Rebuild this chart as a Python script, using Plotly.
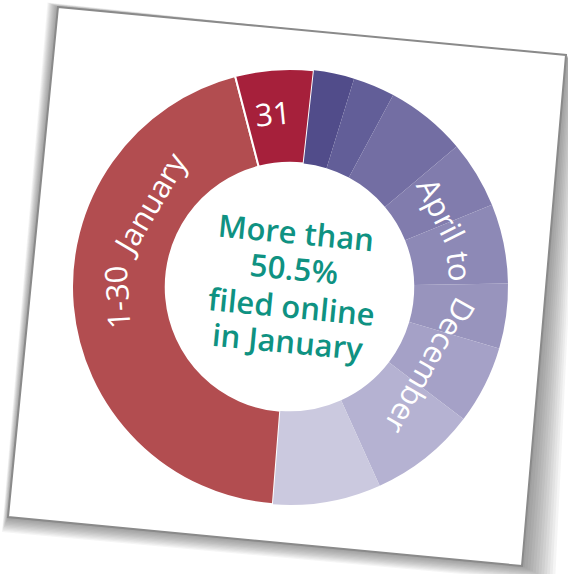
import math
import plotly.graph_objects as go

# ---------------- data ----------------
segments = ["1-30 January", "31 January", "Segment 3", "Segment 4", "Segment 5",
            "Segment 6", "Segment 7", "Segment 8", "Segment 9", "Segment 10", "Segment 11"]
shares = [44.7, 5.8, 3.0, 3.1, 6.0, 5.0, 5.9, 4.8, 5.8, 7.9, 8.0]
slice_colors = ["#b24d50", "#a6203b",
                "#514c8a", "#625e98", "#736ea3", "#817cad", "#8d89b6",
                "#9894bd", "#a5a1c7", "#b5b2d2", "#cbc9df"]
center_lines = ["More than", "50.5%", "filed online", "in January"]
arc_words = ["1-30", "January", "31", "April", "to", "December"]

# ---------------- layout helpers ----------------
W, H = 568, 574
CX, CY, R = 290, 287, 218
TILT = 5.5  # card rotation (degrees, clockwise)


def P(px, py):
    return px / W, 1 - py / H


def polar(theta, r):
    t = math.radians(theta)
    return CX + r * math.sin(t), CY - r * math.cos(t)


fig = go.Figure()

x0, y0 = P(CX - R, CY + R)
x1, y1 = P(CX + R, CY - R)

line_widths = [2, 2] + [0] * (len(shares) - 2)

fig.add_trace(go.Pie(
    labels=segments,
    values=shares,
    sort=False,
    direction="clockwise",
    rotation=-175.5,
    hole=0.57,
    marker=dict(colors=slice_colors, line=dict(color="white", width=line_widths)),
    textinfo="none",
    hoverinfo="label+percent",
    showlegend=False,
    domain=dict(x=[x0, x1], y=[y0, y1]),
))

# ---------------- card with shadow ----------------
corners = [(58, 7), (566, 55), (522, 566), (8, 517)]


def path_from(pts):
    s = ""
    for i, (px, py) in enumerate(pts):
        qx, qy = P(px, py)
        s += ("M" if i == 0 else "L") + f"{qx:.5f},{qy:.5f} "
    return s + "Z"


shapes = []
# shadow layers (stronger toward bottom-right)
for k in range(1, 13):
    grow = k * 1.25
    pts = [
        (58 - grow * 0.7, 7 - grow * 0.3),
        (566 + grow * 1.0, 55 + grow * 0.3),
        (522 + grow * 2.2, 566 + grow * 1.1),
        (8 - grow * 0.4, 517 + grow * 1.0),
    ]
    shapes.append(dict(type="path", path=path_from(pts), xref="paper", yref="paper",
                       fillcolor="rgba(50,50,50,0.05)", line=dict(width=0), layer="below"))
shapes.append(dict(type="path", path=path_from(corners), xref="paper", yref="paper",
                   fillcolor="white", line=dict(color="#8a8a8a", width=2), layer="below"))

# ---------------- annotations ----------------
annotations = []
label_font = dict(family="Open Sans, Noto Sans, sans-serif", color="white")

# (word, theta, radius, size)
arc_places = [
    (arc_words[0], 266.5, 174, 31),
    (arc_words[1], 300.5, 164, 31),
    (arc_words[2], -5.6, 175, 31),
    (arc_words[3], 63.0, 170, 31),
    (arc_words[4], 83.0, 171, 31),
    (arc_words[5], 119.5, 161, 31),
]
for word, th, rr, size in arc_places:
    px, py = polar(th, rr)
    ax, ay = P(px, py)
    ang = th if th <= 180 else th - 360
    annotations.append(dict(
        text=word, x=ax, y=ay, xref="paper", yref="paper",
        xanchor="center", yanchor="middle", showarrow=False,
        textangle=ang, font=dict(size=size, **label_font),
    ))

center_pos = [(296, 232), (294, 268), (291, 306), (287, 341)]
for line, (px, py) in zip(center_lines, center_pos):
    ax, ay = P(px, py)
    annotations.append(dict(
        text=line, x=ax, y=ay, xref="paper", yref="paper",
        xanchor="center", yanchor="middle", showarrow=False,
        textangle=TILT,
        font=dict(family="Open Sans, Noto Sans, sans-serif", size=31,
                  color="#0f9282", weight=600),
    ))

fig.update_layout(
    width=W, height=H,
    margin=dict(l=0, r=0, t=0, b=0),
    paper_bgcolor="white",
    plot_bgcolor="white",
    shapes=shapes,
    annotations=annotations,
    showlegend=False,
)

fig.write_html("out.html")
